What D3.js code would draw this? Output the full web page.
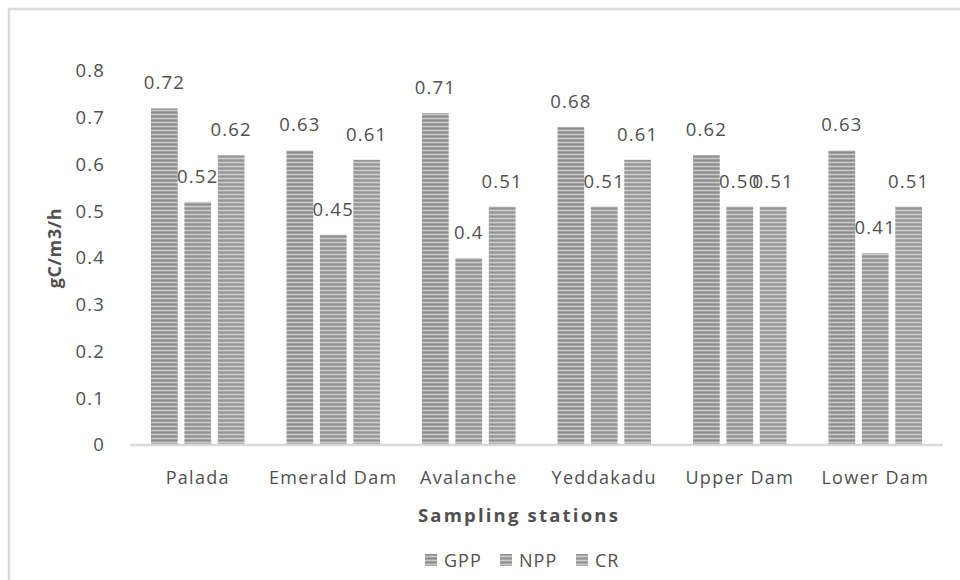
<!DOCTYPE html>
<html>
<head>
<meta charset="utf-8">
<script src="https://cdn.jsdelivr.net/npm/d3@7"></script>
<style>
  html, body { margin: 0; padding: 0; background: #fff; }
  svg { display: block; }
  text { font-family: "Open Sans", sans-serif; fill: #505050; }
</style>
</head>
<body>
<svg id="chart" width="960" height="580"></svg>
<script>
// Sampling stations and primary productivity values (gC/m3/h)
const stations = ["Palada", "Emerald Dam", "Avalanche", "Yeddakadu", "Upper Dam", "Lower Dam"];
const seriesNames = ["GPP", "NPP", "CR"];
const gpp = [0.72, 0.63, 0.71, 0.68, 0.62, 0.63];
const npp = [0.52, 0.45, 0.40, 0.51, 0.51, 0.41];
const cr  = [0.62, 0.61, 0.51, 0.61, 0.51, 0.51];
const yTicks = [0, 0.1, 0.2, 0.3, 0.4, 0.5, 0.6, 0.7, 0.8];
const valueLabels = [
  ["0.72", "0.63", "0.71", "0.68", "0.62", "0.63"],
  ["0.52", "0.45", "0.4", "0.51", "0.50", "0.41"],
  ["0.62", "0.61", "0.51", "0.61", "0.51", "0.51"]
];

const series = [gpp, npp, cr];
const rows = stations.map((s, i) => ({
  station: s,
  values: seriesNames.map((n, k) => ({ key: n, value: series[k][i], label: valueLabels[k][i] }))
}));

const svg = d3.select("#chart");
const defs = svg.append("defs");

// Horizontal-stripe fill used for every bar
const stripeSets = {
  GPP: ["#8c8c8c", "#a2a2a2", "#c8c8c8", "#a2a2a2"],
  NPP: ["#909090", "#a5a5a5", "#cacaca", "#a5a5a5"],
  CR:  ["#939393", "#a8a8a8", "#cdcdcd", "#a8a8a8"]
};
seriesNames.forEach(n => {
  const p = defs.append("pattern")
    .attr("id", "stripe-" + n)
    .attr("patternUnits", "userSpaceOnUse")
    .attr("width", 8).attr("height", 4);
  stripeSets[n].forEach((c, i) => {
    p.append("rect").attr("x", 0).attr("y", i).attr("width", 8).attr("height", 1).attr("fill", c);
  });
});

// Chart frame
svg.append("rect")
  .attr("x", 9).attr("y", 9).attr("width", 1000).attr("height", 620)
  .attr("fill", "#fff").attr("stroke", "#d9d9d9").attr("stroke-width", 2.5);

// Title (runs above the visible area)
const titleG = svg.append("g").attr("font-weight", "bold");
titleG.append("text").attr("x", 196).attr("y", -4).attr("font-size", 20).style("fill", "#000").text("(");
titleG.append("text").attr("x", 386).attr("y", -4).attr("font-size", 20).style("fill", "#000").text(")");

const x0 = d3.scaleBand().domain(stations).range([130, 943]).paddingInner(0.31).paddingOuter(0.155);
const x1 = d3.scaleBand().domain(seriesNames).range([0, x0.bandwidth()]).paddingInner(0.2);
const y = d3.scaleLinear().domain([0, 0.8]).range([445, 71]);

// Y axis labels (no axis line)
const yAxis = d3.axisLeft(y).tickValues(yTicks).tickFormat(d => d === 0 ? "0" : d3.format(".1f")(d)).tickSize(0).tickPadding(0);
const yg = svg.append("g").attr("transform", "translate(105,0)").call(yAxis);
yg.select(".domain").remove();
yg.selectAll("text").attr("font-size", 18.5).attr("letter-spacing", 1.2)
  .style("font-family", "'Open Sans', sans-serif").style("fill", "#505050");

// Bars
const groups = svg.append("g").selectAll("g").data(rows).join("g")
  .attr("transform", d => `translate(${x0(d.station)},0)`);

groups.selectAll("rect").data(d => d.values).join("rect")
  .attr("x", d => x1(d.key))
  .attr("y", d => y(d.value))
  .attr("width", x1.bandwidth())
  .attr("height", d => y(0) - y(d.value))
  .attr("fill", d => `url(#stripe-${d.key})`);

// Value labels
groups.selectAll("text.val").data(d => d.values).join("text")
  .attr("class", "val")
  .attr("x", d => x1(d.key) + x1.bandwidth() / 2)
  .attr("y", d => y(d.value) - 19)
  .attr("text-anchor", "middle")
  .attr("font-size", 18.5).attr("letter-spacing", 1.2)
  .text(d => d.label);

// X axis line and station labels
const xAxis = d3.axisBottom(x0).tickSize(0).tickPadding(0);
const xg = svg.append("g").attr("transform", `translate(0,${y(0)})`).call(xAxis);
xg.select(".domain").attr("stroke", "#d9d9d9").attr("stroke-width", 2.5)
  .attr("d", "M130,0H943");
xg.selectAll("text").attr("dy", "39px").attr("font-size", 18).attr("letter-spacing", 1.3)
  .style("font-family", "'Open Sans', sans-serif").style("fill", "#505050");

// Axis titles
svg.append("text")
  .attr("x", 519).attr("y", 522).attr("text-anchor", "middle")
  .attr("font-size", 18.5).attr("font-weight", "bold").attr("letter-spacing", 2.2)
  .text("Sampling stations");

svg.append("text")
  .attr("transform", "translate(61,248) rotate(-90)")
  .attr("text-anchor", "middle")
  .attr("font-size", 18).attr("font-weight", "bold").attr("letter-spacing", 0.6)
  .text("gC/m3/h");

// Legend
const legendX = [425, 500, 576];
const lg = svg.append("g").selectAll("g").data(seriesNames).join("g")
  .attr("transform", (d, i) => `translate(${legendX[i]},554)`);
lg.append("rect").attr("width", 12).attr("height", 12).attr("fill", d => `url(#stripe-${d})`);
lg.append("text").attr("x", 19).attr("y", 13).attr("font-size", 18).attr("letter-spacing", 1)
  .text(d => d);
</script>
</body>
</html>
